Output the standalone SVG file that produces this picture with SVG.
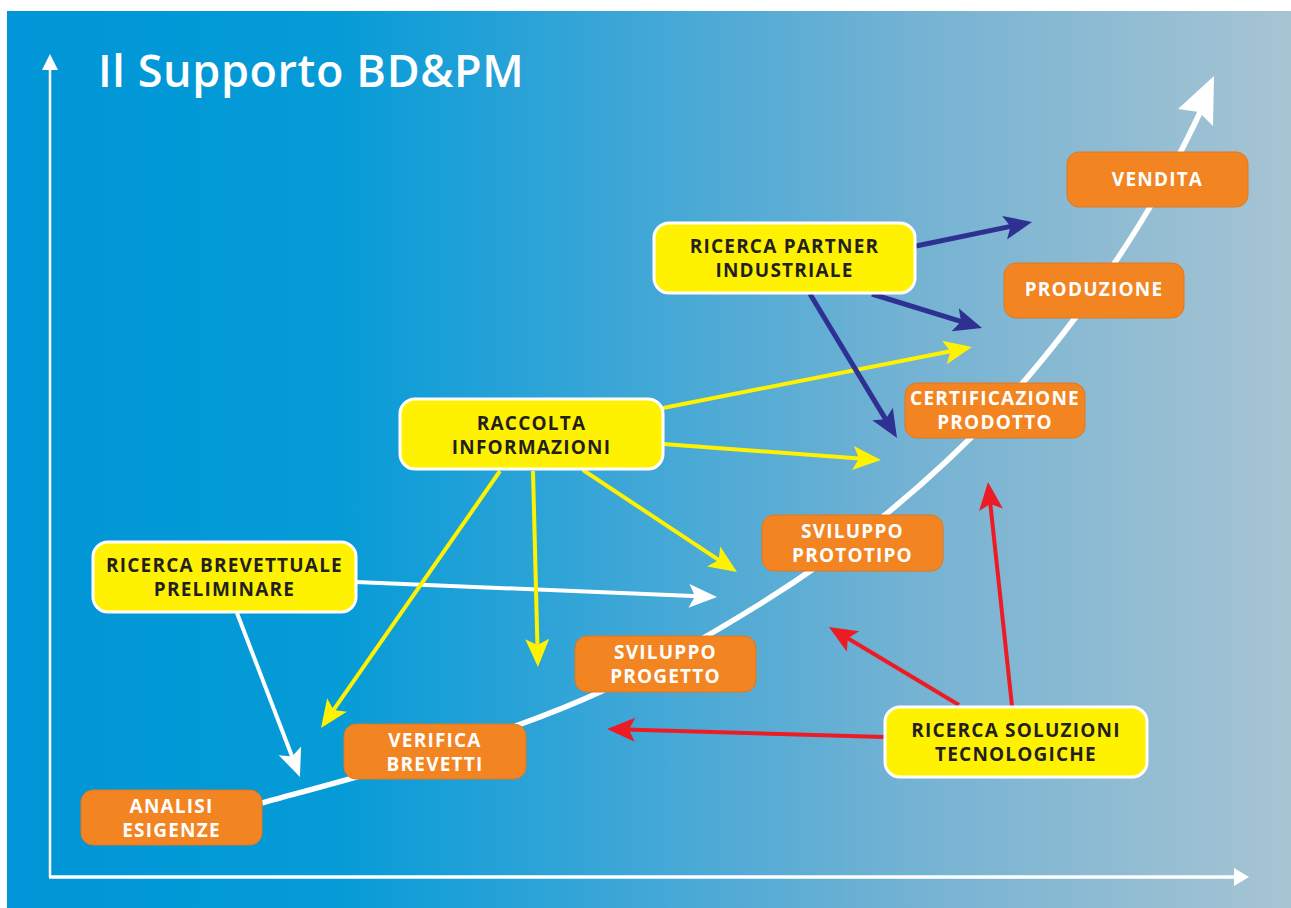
<svg xmlns="http://www.w3.org/2000/svg" width="1291" height="908" viewBox="0 0 1291 908">
  <defs>
    <linearGradient id="bg" x1="0" y1="0" x2="1" y2="0">
      <stop offset="0" stop-color="#0096d7"/>
      <stop offset="0.25" stop-color="#049bd7"/>
      <stop offset="0.45" stop-color="#35a5d7"/>
      <stop offset="0.7" stop-color="#73b2d3"/>
      <stop offset="1" stop-color="#a7c4d3"/>
    </linearGradient>
    <marker id="hw" markerUnits="userSpaceOnUse" markerWidth="30" markerHeight="26" refX="10" refY="12" orient="auto" overflow="visible">
      <path d="M0,0 L28,12 L0,24 L6,12 z" fill="#ffffff"/>
    </marker>
    <marker id="hy" markerUnits="userSpaceOnUse" markerWidth="30" markerHeight="26" refX="10" refY="12" orient="auto" overflow="visible">
      <path d="M0,0 L28,12 L0,24 L6,12 z" fill="#fff200"/>
    </marker>
    <marker id="hb" markerUnits="userSpaceOnUse" markerWidth="30" markerHeight="26" refX="10" refY="12" orient="auto" overflow="visible">
      <path d="M0,0 L28,12 L0,24 L6,12 z" fill="#2e3192"/>
    </marker>
    <marker id="hr" markerUnits="userSpaceOnUse" markerWidth="30" markerHeight="26" refX="10" refY="12" orient="auto" overflow="visible">
      <path d="M0,0 L28,12 L0,24 L6,12 z" fill="#ed1c24"/>
    </marker>
  </defs>
  <style>
    .title { font-family: "Open Sans", "Liberation Sans", sans-serif; font-weight: 600; font-size: 45px; letter-spacing: 0.6px; fill: #ffffff; }
    .lbl { font-family: "Open Sans", "Liberation Sans", sans-serif; font-weight: 700; font-size: 19px; letter-spacing: 1.2px; text-anchor: middle; }
    .yb { fill: #fff200; stroke: #ffffff; stroke-width: 3; }
    .ob { fill: #f28522; stroke: #e07820; stroke-width: 1; }
    .yt { fill: #231f20; }
    .ot { fill: #ffffff; }
    .cw { stroke: #ffffff; stroke-width: 4; fill: none; marker-end: url(#hw); }
    .cy { stroke: #fff200; stroke-width: 4; fill: none; marker-end: url(#hy); }
    .cb { stroke: #2e3192; stroke-width: 5; fill: none; marker-end: url(#hb); }
    .cr { stroke: #ed1c24; stroke-width: 4; fill: none; marker-end: url(#hr); }
  </style>

  <rect x="0" y="0" width="1291" height="908" fill="#ffffff"/>
  <rect x="7" y="11" width="1284" height="897" fill="url(#bg)"/>

  <g id="axes" fill="#ffffff">
    <line x1="50" y1="877" x2="50" y2="66" stroke="#ffffff" stroke-width="2.5"/>
    <polygon points="50,54 42,70 58,70"/>
    <line x1="49" y1="877" x2="1236" y2="877" stroke="#ffffff" stroke-width="3.5"/>
    <polygon points="1249,877 1234,868 1234,886"/>
  </g>

  <text class="title" x="98" y="87">Il Supporto BD&amp;PM</text>

  <g id="curve">
    <path d="M262,803 C290,795 373.7,773.5 430,755 C486.3,736.5 545,717.2 600,692 C655,666.8 712.5,633.5 760,604 C807.5,574.5 845,547.7 885,515 C925,482.3 965.8,444.2 1000,408 C1034.2,371.8 1063.3,334.3 1090,298 C1116.7,261.7 1140.8,223.3 1160,190 C1177,160 1192,130 1203,106" fill="none" stroke="#ffffff" stroke-width="5.5"/>
    <polygon points="1214,76 1178,109 1199,112 1213,126" fill="#ffffff"/>
  </g>

  <g id="connectors">
    <line class="cw" x1="356" y1="582" x2="699" y2="596.3"/>
    <line class="cw" x1="237" y1="613" x2="293.5" y2="760.2"/>
    <line class="cy" x1="663" y1="408" x2="954.3" y2="350.5"/>
    <line class="cy" x1="663" y1="444" x2="863" y2="458.7"/>
    <line class="cy" x1="583" y1="470" x2="722" y2="562.1"/>
    <line class="cy" x1="533" y1="471" x2="537.5" y2="649"/>
    <line class="cy" x1="500" y1="471" x2="331.3" y2="713.2"/>
    <line class="cb" x1="916" y1="246" x2="1014.4" y2="225.6"/>
    <line class="cb" x1="872" y1="294" x2="964.8" y2="322.7"/>
    <line class="cb" x1="810" y1="294" x2="887.7" y2="422.6"/>
    <line class="cr" x1="884" y1="737" x2="625" y2="729.5"/>
    <line class="cr" x1="959" y1="705" x2="844.4" y2="636.3"/>
    <line class="cr" x1="1012" y1="706" x2="989.9" y2="499.9"/>
  </g>

  <g id="vendita">
    <rect class="ob" x="1067" y="152" width="181" height="55" rx="12"/>
    <text class="lbl ot" x="1157.5" y="186">VENDITA</text>
  </g>
  <g id="produzione">
    <rect class="ob" x="1004" y="263" width="180" height="55" rx="12"/>
    <text class="lbl ot" x="1094" y="296">PRODUZIONE</text>
  </g>
  <g id="certificazione">
    <rect class="ob" x="905" y="383" width="180" height="55" rx="12"/>
    <text class="lbl ot" x="995" y="405">CERTIFICAZIONE</text>
    <text class="lbl ot" x="995" y="429">PRODOTTO</text>
  </g>
  <g id="sviluppo-prototipo">
    <rect class="ob" x="762" y="515" width="181" height="56" rx="12"/>
    <text class="lbl ot" x="852.5" y="538">SVILUPPO</text>
    <text class="lbl ot" x="852.5" y="562">PROTOTIPO</text>
  </g>
  <g id="sviluppo-progetto">
    <rect class="ob" x="575" y="636" width="181" height="56" rx="12"/>
    <text class="lbl ot" x="665.5" y="659">SVILUPPO</text>
    <text class="lbl ot" x="665.5" y="683">PROGETTO</text>
  </g>
  <g id="verifica-brevetti">
    <rect class="ob" x="344" y="724" width="182" height="55" rx="12"/>
    <text class="lbl ot" x="435" y="747">VERIFICA</text>
    <text class="lbl ot" x="435" y="771">BREVETTI</text>
  </g>
  <g id="analisi-esigenze">
    <rect class="ob" x="81" y="790" width="181" height="55" rx="12"/>
    <text class="lbl ot" x="171.5" y="813">ANALISI</text>
    <text class="lbl ot" x="171.5" y="837">ESIGENZE</text>
  </g>

  <g id="ricerca-partner">
    <rect class="yb" x="654" y="223" width="261" height="70" rx="15"/>
    <text class="lbl yt" x="784.5" y="253">RICERCA PARTNER</text>
    <text class="lbl yt" x="784.5" y="277">INDUSTRIALE</text>
  </g>
  <g id="raccolta-informazioni">
    <rect class="yb" x="400" y="399" width="263" height="70" rx="15"/>
    <text class="lbl yt" x="531.5" y="430">RACCOLTA</text>
    <text class="lbl yt" x="531.5" y="454">INFORMAZIONI</text>
  </g>
  <g id="ricerca-brevettuale">
    <rect class="yb" x="93" y="542" width="263" height="70" rx="15"/>
    <text class="lbl yt" x="224.5" y="572">RICERCA BREVETTUALE</text>
    <text class="lbl yt" x="224.5" y="596">PRELIMINARE</text>
  </g>
  <g id="ricerca-soluzioni">
    <rect class="yb" x="885" y="707" width="262" height="70" rx="15"/>
    <text class="lbl yt" x="1016" y="737">RICERCA SOLUZIONI</text>
    <text class="lbl yt" x="1016" y="761">TECNOLOGICHE</text>
  </g>
</svg>
